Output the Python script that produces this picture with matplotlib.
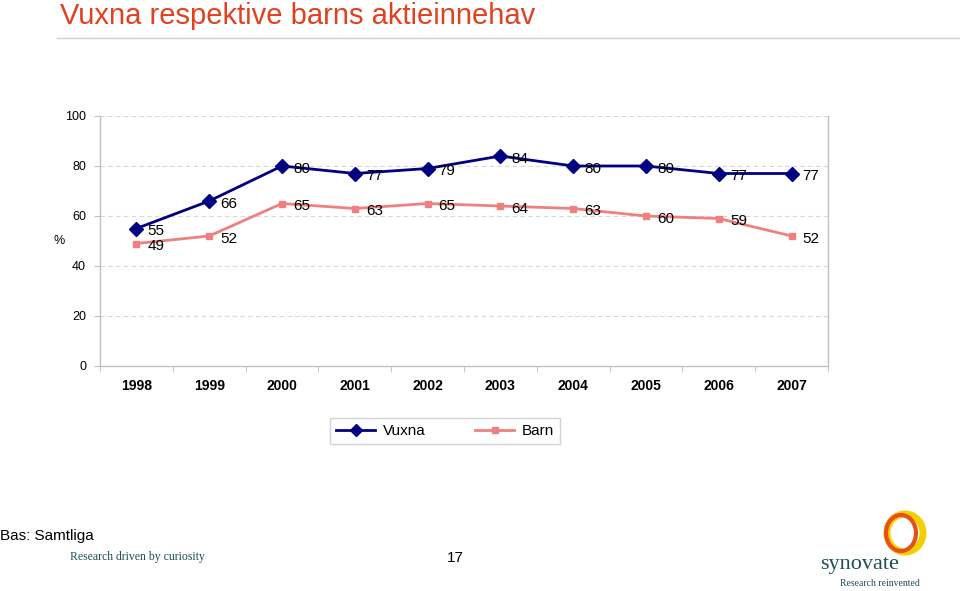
import matplotlib
matplotlib.use("Agg")
import matplotlib.pyplot as plt
from matplotlib.patches import Ellipse
from matplotlib.lines import Line2D

years = ["1998", "1999", "2000", "2001", "2002", "2003", "2004", "2005", "2006", "2007"]
vuxna = [55, 66, 80, 77, 79, 84, 80, 80, 77, 77]
barn = [49, 52, 65, 63, 65, 64, 63, 60, 59, 52]
yticks = [0, 20, 40, 60, 80, 100]

plt.rcParams['font.family'] = ['Liberation Sans', 'DejaVu Sans']

fig = plt.figure(figsize=(9.6, 5.91), dpi=100)
ax = fig.add_axes([100/960, 1-366/591, 728/960, 250/591])

x = list(range(len(years)))
navy = '#000080'
pink = '#F08080'
ax.plot(x, vuxna, color=navy, lw=2, marker='D', ms=7, zorder=3, label='Vuxna')
ax.plot(x, barn, color=pink, lw=2, marker='s', ms=5, zorder=3, label='Barn')

for xi, v in zip(x, vuxna):
    ax.annotate(str(v), (xi, v), xytext=(8, -2), textcoords='offset points',
                ha='left', va='center', fontsize=11, color='black', zorder=4)
for xi, v in zip(x, barn):
    ax.annotate(str(v), (xi, v), xytext=(8, -2), textcoords='offset points',
                ha='left', va='center', fontsize=11, color='black', zorder=4)

ax.set_xlim(-0.5, len(years) - 0.5)
ax.set_ylim(0, 100)
ax.set_yticks(yticks)
ax.set_yticklabels([str(t) for t in yticks], fontsize=9)
ax.set_xticks(x)
ax.set_xticklabels(years, fontsize=10, fontweight='bold')
ax.set_xticks([i - 0.5 for i in range(len(years) + 1)], minor=True)
ax.tick_params(axis='x', which='major', length=0, pad=9)
ax.tick_params(axis='x', which='minor', length=4, color='#c0c0c0')
ax.tick_params(axis='y', length=4, color='#c0c0c0', pad=6)
for yt in yticks[1:]:
    ax.axhline(yt, color='#d8d8d8', lw=0.8, ls=(0, (4, 3)), zorder=1)
ax.spines['top'].set_visible(False)
for s in ['left', 'bottom', 'right']:
    ax.spines[s].set_color('#c0c0c0')
    ax.spines[s].set_linewidth(1)
ax.set_ylabel('%', rotation=0, fontsize=9, labelpad=4, va='center')

fig.legend(handles=[Line2D([], [], color=navy, lw=2, marker='D', ms=6),
                    Line2D([], [], color=pink, lw=2, marker='s', ms=4)],
           labels=['Vuxna', 'Barn'], loc='center', bbox_to_anchor=(445/960, 1-431/591),
           ncol=2, frameon=True, fancybox=False, edgecolor='#c8c8c8', fontsize=11,
           handlelength=2.6, columnspacing=3.2, borderpad=0.4, handletextpad=0.5)

fig.text(60/960, 1-16/591, 'Vuxna respektive barns aktieinnehav', fontsize=21,
         color='#E2401E', ha='left', va='center')
fig.add_artist(Line2D([57/960, 1], [1-38/591, 1-38/591], color='#d0d0d0', lw=1))

fig.text(0, 1-536/591, 'Bas: Samtliga', fontsize=11, ha='left', va='center')
fig.text(70/960, 1-557/591, 'Research driven by curiosity', fontsize=8.5,
         family=['Liberation Serif', 'DejaVu Serif'], color='#1f4e5a', ha='left', va='center')
fig.text(455/960, 1-558/591, '17', fontsize=11, ha='center', va='center')

# logo
fig.text(860/960, 1-565/591, 'synovate', fontsize=16, family=['Liberation Serif', 'DejaVu Serif'],
         color='#1f4e5a', ha='center', va='center')
fig.text(880/960, 1-583/591, 'Research reinvented', fontsize=7, family=['Liberation Serif', 'DejaVu Serif'],
         color='#1f4e5a', ha='center', va='center')
fig.add_artist(Ellipse((905/960, 1-533/591), 36/960, 38/591, fill=False, ec='#F5D000', lw=5,
                       transform=fig.transFigure))
fig.add_artist(Ellipse((901/960, 1-533/591), 30/960, 36/591, fill=False, ec='#E8501A', lw=3,
                       transform=fig.transFigure))

fig.savefig('out.png', dpi=100)
